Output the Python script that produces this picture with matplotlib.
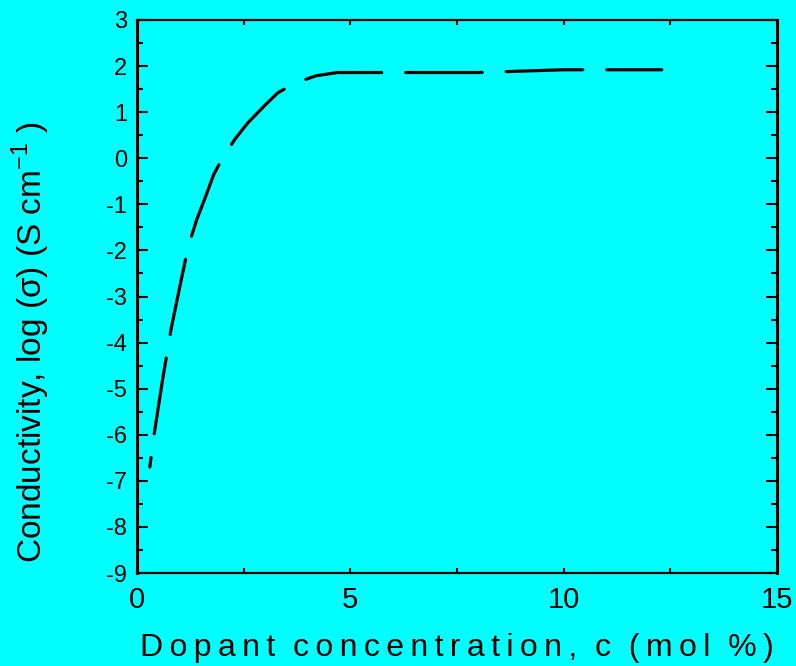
import matplotlib
matplotlib.use('Agg')
import matplotlib.pyplot as plt
from matplotlib.ticker import FixedLocator, FixedFormatter

# dopant concentration (mol %) and log conductivity
conc = [0.30, 0.40, 0.60, 0.80, 1.00, 1.20, 1.40, 1.60, 1.80, 2.00, 2.30,
        2.60, 3.00, 3.30, 3.70, 4.20, 4.70, 6.00, 8.00, 10.0, 12.3]
log_sigma = [-6.70, -6.00, -4.80, -3.70, -2.80, -1.92, -1.33, -0.85, -0.35, 0.00, 0.42,
             0.77, 1.15, 1.42, 1.63, 1.79, 1.86, 1.86, 1.86, 1.92, 1.92]

x_ticks = [0, 5, 10, 15]
x_ticklabels = ['0', '5', '10', '15']
x_minor = [2.5, 7.5, 12.5]
y_ticks = list(range(-9, 4))
y_ticklabels = ['-9', '-8', '-7', '-6', '-5', '-4', '-3', '-2', '-1', '0', '1', '2', '3']
y_minor = [v + 0.5 for v in range(-9, 3)]

bg = '#00ffff'
plt.rcParams['font.family'] = ['Liberation Sans', 'DejaVu Sans']
plt.rcParams['mathtext.fontset'] = 'custom'
plt.rcParams['mathtext.rm'] = 'Liberation Sans'

fig = plt.figure(figsize=(7.96, 6.66), dpi=100, facecolor=bg)
ax = fig.add_axes([0.1721, 0.1396, 0.8040, 0.8304], facecolor=bg)

ax.plot(conc, log_sigma, color='black', lw=2.3, linestyle=(21, (24, 7.5)),
        solid_capstyle='round', dash_capstyle='round')

ax.set_xlim(0, 15)
ax.set_ylim(-9, 3)

ax.xaxis.set_major_locator(FixedLocator(x_ticks))
ax.xaxis.set_major_formatter(FixedFormatter(x_ticklabels))
ax.xaxis.set_minor_locator(FixedLocator(x_minor))
ax.yaxis.set_major_locator(FixedLocator(y_ticks))
ax.yaxis.set_major_formatter(FixedFormatter(y_ticklabels))
ax.yaxis.set_minor_locator(FixedLocator(y_minor))

for side in ['left', 'right']:
    ax.spines[side].set_linewidth(2.2)
for side in ['top', 'bottom']:
    ax.spines[side].set_linewidth(1.6)

ax.tick_params(axis='x', which='both', direction='in', top=True, length=3.5, width=1.5,
               pad=9, labelsize=21)
ax.tick_params(axis='y', which='major', direction='in', right=True, length=8, width=1.5,
               pad=7, labelsize=17)
ax.tick_params(axis='y', which='minor', direction='in', right=True, length=4.5, width=1.5)

ax.set_xlabel('D\u2009o\u2009p\u2009a\u2009n\u2009t  c\u2009o\u2009n\u2009c\u2009e\u2009n\u2009t\u2009r\u2009a\u2009t\u2009i\u2009o\u2009n\u2009,  c  (\u2009m\u2009o\u2009l  %\u2009)',
              fontsize=23, labelpad=14)
ax.set_ylabel('Conductivity, log (\u03c3) (S cm$^{-1}$ )', fontsize=24)
ax.yaxis.set_label_coords(-0.133, 0.418)

fig.savefig('out.png', dpi=100, facecolor=bg)
